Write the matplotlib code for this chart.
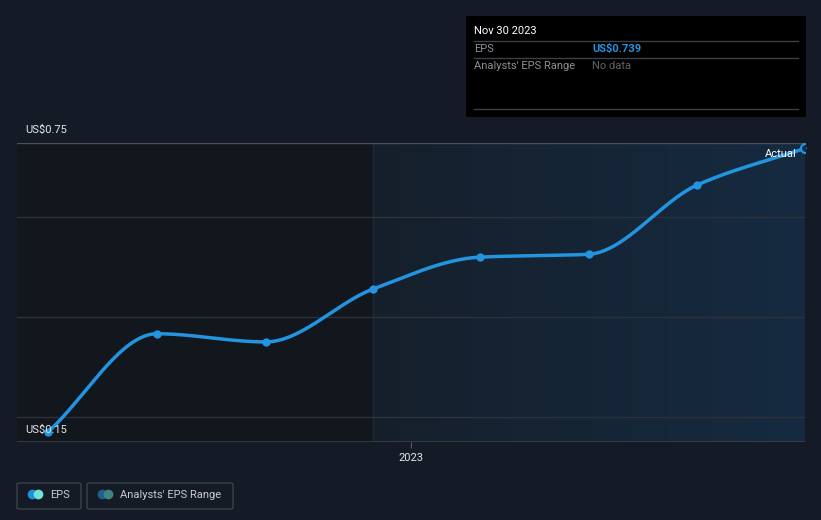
import numpy as np
import matplotlib
matplotlib.use("Agg")
import matplotlib.pyplot as plt
import matplotlib.dates as mdates
from matplotlib.patches import Rectangle, FancyBboxPatch
import datetime as dt

plt.rcParams['font.family'] = ['Roboto', 'DejaVu Sans']

dates = ["2022-02-28", "2022-05-31", "2022-08-31", "2022-11-30",
         "2023-02-28", "2023-05-31", "2023-08-31", "2023-11-30"]
eps = [0.150, 0.354, 0.337, 0.447, 0.513, 0.519, 0.663, 0.739]
y_labels = ["US$0.75", "US$0.15"]
x_tick_label = "2023"
tooltip_date = "Nov 30 2023"
tooltip_eps = "US$0.739"

W, H = 821, 520
fig = plt.figure(figsize=(W / 100, H / 100), dpi=100)
fig.patch.set_facecolor("#151b26")

def fx(px): return px / W
def fy(py): return 1 - py / H

ax_l, ax_r, ax_t, ax_b = 17, 805, 143, 442
ax = fig.add_axes([fx(ax_l), fy(ax_b), fx(ax_r - ax_l), (ax_b - ax_t) / H])
ax.set_facecolor("#151b26")
for s in ax.spines.values():
    s.set_visible(False)

xd = np.array([mdates.date2num(dt.date.fromisoformat(d)) for d in dates])
yd = np.array(eps)
px_per_day = (805 - 48) / (xd[-1] - xd[0])
x0 = xd[0] - (48 - ax_l) / px_per_day
x1 = xd[-1]
ymax = 0.75
ppu = (432 - 143) / (0.75 - 0.15)
ymin = ymax - (ax_b - ax_t) / ppu
ax.set_xlim(x0, x1)
ax.set_ylim(ymin, ymax)

# regions
split = xd[3]
ax.axvspan(x0, split, color="#12161d", zorder=0, lw=0)
n = 60
edges = np.linspace(split, x1, n + 1)
c0 = np.array([0x15, 0x1f, 0x2b]) / 255
c1 = np.array([0x15, 0x2a, 0x40]) / 255
for i in range(n):
    t = i / (n - 1)
    ax.axvspan(edges[i], edges[i + 1], color=tuple(c0 * (1 - t) + c1 * t), zorder=0, lw=0)
ax.axvline(split, color="#1c2a38", lw=1, zorder=1)

# gridlines
for gpx in [217, 317, 417]:
    gv = ymax - (gpx - ax_t) / ppu
    ax.axhline(gv, color="#2c323b", lw=1, zorder=1)
ax.axhline(ymax, color="#4a5059", lw=1, zorder=1)
ax.axhline(ymin, color="#3a4049", lw=1.2, zorder=1)

# monotone cubic interpolation for smooth line
def monotone(x, y):
    h = np.diff(x)
    d = np.diff(y) / h
    m = np.zeros_like(y)
    m[0] = d[0]
    m[-1] = d[-1]
    for i in range(1, len(y) - 1):
        if d[i - 1] * d[i] <= 0:
            m[i] = 0
        else:
            m[i] = (h[i - 1] + h[i]) * 3 / ((2 * h[i] + h[i - 1]) / d[i - 1] + (h[i] + 2 * h[i - 1]) / d[i])
    xs, ys = [], []
    for i in range(len(x) - 1):
        t = np.linspace(0, 1, 60)
        hh = h[i]
        h00 = 2 * t**3 - 3 * t**2 + 1
        h10 = t**3 - 2 * t**2 + t
        h01 = -2 * t**3 + 3 * t**2
        h11 = t**3 - t**2
        xs.append(x[i] + t * hh)
        ys.append(h00 * y[i] + h10 * hh * m[i] + h01 * y[i + 1] + h11 * hh * m[i + 1])
    return np.concatenate(xs), np.concatenate(ys)

sx, sy = monotone(xd, yd)
blue = "#2394e0"
ax.plot(sx, sy, color=blue, lw=2.5, zorder=3, solid_capstyle="round", clip_on=False)
ax.scatter(xd[:-1], yd[:-1], s=36, color=blue, zorder=4, clip_on=False, lw=0)
ax.scatter(xd[-1:], yd[-1:], s=42, facecolor="#152a40", edgecolor=blue, lw=1.6, zorder=5, clip_on=True)

ax.set_xticks([mdates.date2num(dt.date(2023, 1, 1))])
ax.set_xticklabels([x_tick_label], color="#e6e8ea", fontsize=8)
ax.tick_params(axis="x", length=4, color="#555b63", pad=4)
ax.set_yticks([])

fig.text(fx(25), fy(130), y_labels[0], color="#e6e8ea", fontsize=8, va="center", ha="left")
fig.text(fx(25), fy(430), y_labels[1], color="#e6e8ea", fontsize=8, va="center", ha="left", zorder=2)
fig.text(fx(797), fy(154), "Actual", color="#ffffff", fontsize=8, va="center", ha="right")

# tooltip
fig.patches.append(Rectangle((fx(466), fy(117)), fx(806 - 466), (117 - 16) / H,
                             transform=fig.transFigure, facecolor="#000000", edgecolor="none", zorder=5))
fig.text(fx(474), fy(31), tooltip_date, color="#ffffff", fontsize=8, va="center", zorder=6)
for ly in [41, 58, 109]:
    fig.add_artist(plt.Line2D([fx(474), fx(798)], [fy(ly), fy(ly)], color="#3c3f44", lw=1, zorder=6))
fig.text(fx(474), fy(49), "EPS", color="#8c9096", fontsize=8, va="center", zorder=6)
fig.text(fx(592), fy(49), tooltip_eps, color="#2394e0", fontsize=8, va="center", weight="bold", zorder=6)
fig.text(fx(474), fy(66), "Analysts' EPS Range", color="#8c9096", fontsize=8, va="center", zorder=6)
fig.text(fx(592), fy(66), "No data", color="#5f6368", fontsize=8, va="center", zorder=6)

# legend
def legbox(l, r, c1_, c2_, label):
    fig.patches.append(FancyBboxPatch((fx(l), fy(509)), fx(r - l), 26 / H, transform=fig.transFigure,
                                      boxstyle="round,pad=0,rounding_size=0.003",
                                      facecolor="none", edgecolor="#3d434c", lw=1))
    fig.add_artist(plt.Line2D([fx(l + 15)], [fy(494)], marker="o", ms=7, color=c1_, mew=0))
    fig.add_artist(plt.Line2D([fx(l + 21)], [fy(494)], marker="o", ms=7, color=c2_, mew=0))
    fig.text(fx(l + 33), fy(494.5), label, color="#c8ccd0", fontsize=8, va="center")

legbox(17, 81, "#1f8fe0", "#6fe3d5", "EPS")
legbox(87, 233, "#1f5f8f", "#3f8585", "Analysts' EPS Range")

fig.savefig("out.png", dpi=100, facecolor=fig.get_facecolor())
